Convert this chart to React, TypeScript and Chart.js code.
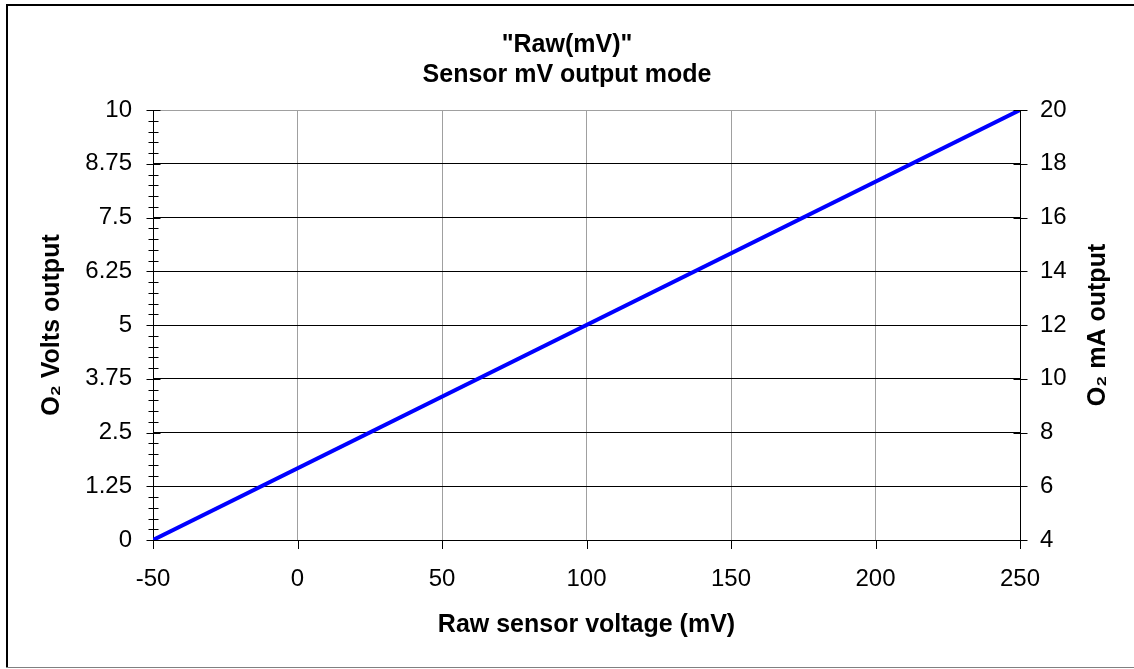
import { useEffect, useRef } from "react";
import { Chart, registerables } from "chart.js";

Chart.register(...registerables);

// ---- data ----
const sensorMv = [-50, 250];
const voltsOutput = [0, 10];

const titleLines = ['"Raw(mV)"', "Sensor mV output mode"];
const xTitle = "Raw sensor voltage (mV)";
const yLeftTitle = "O\u2082 Volts output";
const yRightTitle = "O\u2082 mA output";

const xMin = -50;
const xMax = 250;
const xStep = 50;
const voltsMin = 0;
const voltsMax = 10;
const voltsStep = 1.25;
const voltsMinorStep = 0.25;
const mAMin = 4;
const mAMax = 20;
const mAStep = 2;

const FONT = "'Liberation Sans', Arial, Helvetica, sans-serif";
const TICK_SIZE = 24;
const TITLE_SIZE = 25;

const fmt = (v: any) => String(Number(Number(v).toFixed(2)));

const decorPlugin = {
  id: "decor",
  afterDraw(chart: any) {
    const ctx = chart.ctx as CanvasRenderingContext2D;
    const x = chart.scales.x;
    const yl = chart.scales.y;
    const yr = chart.scales.y2;
    const area = chart.chartArea;
    ctx.save();
    ctx.strokeStyle = "#000";
    ctx.lineWidth = 1;
    ctx.beginPath();
    const ax = Math.round(area.left) + 0.5;
    for (let v = voltsMin; v <= voltsMax + 1e-9; v += voltsMinorStep) {
      const py = Math.round(yl.getPixelForValue(v)) + 0.5;
      ctx.moveTo(ax - 5, py);
      ctx.lineTo(ax + 5, py);
    }
    for (let v = voltsMin; v <= voltsMax + 1e-9; v += voltsStep) {
      const py = Math.round(yl.getPixelForValue(v)) + 0.5;
      ctx.moveTo(ax - 7, py);
      ctx.lineTo(ax + 7, py);
    }
    const rx = Math.round(area.right) + 0.5;
    for (let v = mAMin; v <= mAMax + 1e-9; v += mAStep) {
      const py = Math.round(yr.getPixelForValue(v)) + 0.5;
      ctx.moveTo(rx - 7, py);
      ctx.lineTo(rx + 7, py);
    }
    const by = Math.round(area.bottom);
    for (let v = xMin; v <= xMax + 1e-9; v += xStep) {
      const px = Math.round(x.getPixelForValue(v)) + 0.5;
      ctx.moveTo(px, by);
      ctx.lineTo(px, by + 9);
    }
    ctx.stroke();

    ctx.fillStyle = "#000";
    ctx.font = `bold ${TITLE_SIZE}px ${FONT}`;
    ctx.textAlign = "center";
    ctx.textBaseline = "middle";
    ctx.translate(1098, (area.top + area.bottom) / 2);
    ctx.rotate(-Math.PI / 2);
    ctx.fillText(yRightTitle, 0, 0);
    ctx.restore();

    ctx.save();
    ctx.strokeStyle = "#000";
    ctx.lineWidth = 2;
    ctx.beginPath();
    ctx.moveTo(6, 5);
    ctx.lineTo(chart.width, 5);
    ctx.moveTo(7, 4);
    ctx.lineTo(7, 667);
    ctx.stroke();
    ctx.strokeStyle = "#808080";
    ctx.lineWidth = 1;
    ctx.beginPath();
    ctx.moveTo(6, 667.5);
    ctx.lineTo(chart.width, 667.5);
    ctx.stroke();
    ctx.restore();
  },
};

export default function App() {
  const ref = useRef<HTMLCanvasElement | null>(null);

  useEffect(() => {
    document.body.style.margin = "0";
    document.body.style.background = "#fff";
    const canvas = ref.current!;
    const chart = new Chart(canvas, {
      type: "line",
      data: {
        datasets: [
          {
            data: sensorMv.map((mv, i) => ({ x: mv, y: voltsOutput[i] })),
            borderColor: "#0000ff",
            borderWidth: 4,
            pointRadius: 0,
            fill: false,
            tension: 0,
            yAxisID: "y",
          },
        ],
      },
      options: {
        responsive: false,
        animation: false,
        layout: { padding: 0 },
        plugins: {
          legend: { display: false },
          tooltip: { enabled: false },
          title: {
            display: true,
            text: titleLines,
            color: "#000",
            font: { family: FONT, size: TITLE_SIZE, weight: "bold", lineHeight: 30 / TITLE_SIZE },
            padding: { top: 30, bottom: 20 },
          },
        },
        scales: {
          x: {
            type: "linear",
            position: "bottom",
            min: xMin,
            max: xMax,
            ticks: {
              stepSize: xStep,
              color: "#000",
              font: { family: FONT, size: TICK_SIZE },
              padding: 25,
              maxRotation: 0,
              callback: fmt,
            },
            grid: { color: "#a0a0a0", drawTicks: false, lineWidth: 1 },
            border: { color: "#000", width: 1 },
            title: {
              display: true,
              text: xTitle,
              color: "#000",
              font: { family: FONT, size: TITLE_SIZE, weight: "bold" },
              padding: { top: 0, bottom: 29 },
            },
            afterFit: (s: any) => {
              s.height = 129;
            },
          },
          y: {
            type: "linear",
            position: "left",
            min: voltsMin,
            max: voltsMax,
            ticks: {
              stepSize: voltsStep,
              color: "#000",
              font: { family: FONT, size: TICK_SIZE },
              padding: 21,
              callback: fmt,
            },
            grid: {
              color: (c: any) => (c.tick && c.tick.value === voltsMax ? "#a0a0a0" : "#000"),
              drawTicks: false,
              lineWidth: 1,
            },
            border: { color: "#000", width: 1 },
            title: {
              display: true,
              text: yLeftTitle,
              color: "#000",
              font: { family: FONT, size: TITLE_SIZE, weight: "bold" },
              padding: { top: 37, bottom: 0 },
            },
            afterFit: (s: any) => {
              s.width = 153;
            },
          },
          y2: {
            type: "linear",
            position: "right",
            min: mAMin,
            max: mAMax,
            ticks: {
              stepSize: mAStep,
              color: "#000",
              font: { family: FONT, size: TICK_SIZE },
              padding: 20,
              callback: fmt,
            },
            grid: { drawOnChartArea: false, drawTicks: false },
            border: { color: "#000", width: 1 },
            afterFit: (s: any) => {
              s.width = 114;
            },
          },
        },
      },
      plugins: [decorPlugin],
    } as any);
    return () => chart.destroy();
  }, []);

  return (
    <div style={{ width: 1134, height: 669, background: "#fff" }}>
      <canvas ref={ref} width={1134} height={669} style={{ display: "block" }} />
    </div>
  );
}
